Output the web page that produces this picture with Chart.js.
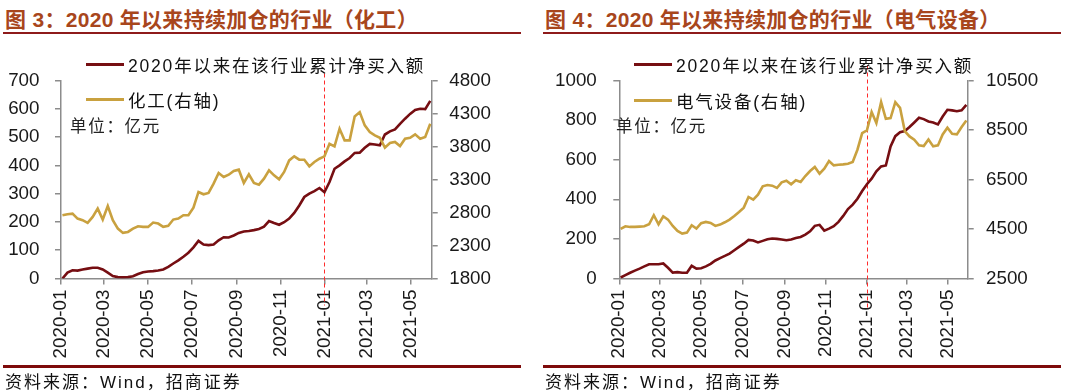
<!DOCTYPE html>
<html>
<head>
<meta charset="utf-8">
<script src="https://cdn.jsdelivr.net/npm/chart.js@4"></script>
<style>
  body { margin: 0; background: #fff; }
  #wrap { position: relative; width: 1080px; height: 392px; overflow: hidden;
          font-family: 'Liberation Sans', Arial, 'Noto Sans CJK SC', sans-serif; }
  .panel { position: absolute; top: 0; width: 540px; height: 392px; }
  .title { position: absolute; top: 7px; left: 5px; font-size: 21px; font-weight: bold; letter-spacing: 0.3px;
           color: #A8461C; white-space: nowrap; line-height: 26px; }
  .rule-top { position: absolute; top: 32px; left: 3px; width: 518px; height: 2px; background: #8E1B1B; }
  .rule-bot { position: absolute; top: 365px; left: 3px; width: 518px; height: 3px; background: #7E0A0A; }
  .source { position: absolute; top: 373px; left: 5px; font-size: 17px; letter-spacing: 2px; color: #111;
            white-space: nowrap; line-height: 20px; }
  canvas { position: absolute; left: 0; top: 40px; }
  .leg { position: absolute; display: flex; align-items: center; height: 20px; font-size: 17.5px; color: #111;
         white-space: nowrap; letter-spacing: 1.8px; }
  .leg .sw { display: inline-block; width: 38px; height: 3px; margin-right: 4px; }
  .unit { position: absolute; font-size: 16.5px; color: #222; white-space: nowrap; line-height: 20px; letter-spacing: 1.7px; }
</style>
</head>
<body>
<div id="wrap">
  <div class="panel" style="left:0">
    <div class="title">图 3：2020 年以来持续加仓的行业（化工）</div>
    <div class="rule-top"></div>
    <canvas id="c1" width="540" height="330"></canvas>
    <div class="leg" style="left:86px;top:54px"><span class="sw" style="background:#760E12"></span>2020年以来在该行业累计净买入额</div>
    <div class="leg" style="left:86px;top:89px"><span class="sw" style="background:#C9A13F"></span>化工(右轴)</div>
    <div class="unit" style="left:70px;top:116px">单位：亿元</div>
    <div class="rule-bot"></div>
    <div class="source">资料来源：Wind，招商证券</div>
  </div>
  <div class="panel" style="left:540px">
    <div class="title">图 4：2020 年以来持续加仓的行业（电气设备）</div>
    <div class="rule-top"></div>
    <canvas id="c2" width="540" height="330"></canvas>
    <div class="leg" style="left:94px;top:54px"><span class="sw" style="background:#760E12"></span>2020年以来在该行业累计净买入额</div>
    <div class="leg" style="left:94px;top:90px"><span class="sw" style="background:#C9A13F"></span>电气设备(右轴)</div>
    <div class="unit" style="left:76px;top:116px">单位：亿元</div>
    <div class="rule-bot"></div>
    <div class="source">资料来源：Wind，招商证券</div>
  </div>
</div>
<script>
// weekly observation dates (Fridays)
const weeks = [
  '2020-01-03','2020-01-10','2020-01-17','2020-01-24','2020-01-31','2020-02-07','2020-02-14','2020-02-21','2020-02-28',
  '2020-03-06','2020-03-13','2020-03-20','2020-03-27','2020-04-03','2020-04-10','2020-04-17','2020-04-24',
  '2020-05-01','2020-05-08','2020-05-15','2020-05-22','2020-05-29','2020-06-05','2020-06-12','2020-06-19','2020-06-26',
  '2020-07-03','2020-07-10','2020-07-17','2020-07-24','2020-07-31','2020-08-07','2020-08-14','2020-08-21','2020-08-28',
  '2020-09-04','2020-09-11','2020-09-18','2020-09-25','2020-10-02','2020-10-09','2020-10-16','2020-10-23','2020-10-30',
  '2020-11-06','2020-11-13','2020-11-20','2020-11-27','2020-12-04','2020-12-11','2020-12-18','2020-12-25',
  '2021-01-01','2021-01-08','2021-01-15','2021-01-22','2021-01-29','2021-02-05','2021-02-12','2021-02-19','2021-02-26',
  '2021-03-05','2021-03-12','2021-03-19','2021-03-26','2021-04-02','2021-04-09','2021-04-16','2021-04-23','2021-04-30',
  '2021-05-07','2021-05-14','2021-05-21','2021-05-28'
];

const xTickLabels = ['2020-01','2020-03','2020-05','2020-07','2020-09','2020-11','2021-01','2021-03','2021-05'];
const axisStart = '2020-01-01';
const axisEnd = '2021-05-30';
const markDate = '2021-01-01';

// 化工
const chemNetBuy = [0, 21, 29, 28, 32, 35, 38, 38, 32, 21, 9, 5, 4, 5, 8, 16, 22, 25, 26, 28,
  32, 41, 53, 64, 77, 91, 110, 133, 120, 118, 120, 135, 146, 145, 152, 161, 166, 168, 171, 175,
  183, 203, 196, 190, 199, 212, 232, 258, 288, 300, 309, 320, 305, 341, 388, 400, 414, 426, 444, 445,
  462, 476, 474, 471, 509, 520, 527, 547, 565, 582, 596, 600, 599, 628];
const chemIndex = [2758, 2773, 2783, 2708, 2683, 2642, 2733, 2859, 2693, 2899, 2683, 2556, 2491, 2506, 2556, 2592, 2582, 2582, 2647, 2632,
  2582, 2597, 2693, 2708, 2758, 2758, 2874, 3111, 3076, 3096, 3237, 3399, 3338, 3373, 3429, 3449, 3247, 3378, 3247, 3222,
  3313, 3439, 3363, 3303, 3414, 3590, 3651, 3600, 3600, 3499, 3565, 3615, 3651, 3842, 3802, 4069, 3893, 3893, 4256, 4321,
  4120, 4019, 3968, 3933, 3782, 3852, 3868, 3807, 3918, 3933, 3984, 3918, 3943, 4145];

// 电气设备
const elecNetBuy = [5, 17, 29, 40, 50, 61, 72, 72, 72, 76, 54, 30, 32, 29, 29, 64, 50, 52, 61, 74,
  91, 103, 114, 126, 143, 160, 176, 195, 192, 182, 190, 198, 202, 200, 197, 193, 197, 205, 210, 222,
  238, 266, 271, 242, 252, 264, 286, 316, 351, 373, 403, 442, 476, 504, 541, 566, 571, 667, 719, 739,
  745, 765, 788, 812, 805, 793, 788, 778, 818, 852, 849, 845, 849, 877];
const elecIndex = [4503, 4611, 4584, 4584, 4597, 4611, 4692, 5055, 4692, 5014, 4880, 4624, 4423, 4315, 4355, 4651, 4517, 4732, 4786, 4745,
  4624, 4678, 4772, 4880, 5028, 5189, 5364, 5794, 5686, 5888, 6224, 6278, 6251, 6157, 6386, 6453, 6305, 6466, 6399, 6641,
  6843, 7004, 6735, 6937, 7246, 7071, 7098, 7112, 7138, 7206, 7703, 8375, 8483, 9223, 8779, 9626, 8954, 8981, 9626, 9397,
  8456, 8241, 8107, 7878, 7851, 8120, 7838, 7878, 8322, 8590, 8349, 8322, 8617, 8886];

const DARK_RED = '#760E12';
const GOLD = '#C9A13F';
const AXIS = '#8C8C8C';
const TICK_FONT = { family: "'Liberation Sans', Arial, sans-serif", size: 18.8 };

// days since 2020-01-01, used as the x value
const base = Date.UTC(2020, 0, 1);
function dayOf(s) {
  const [y, m, d] = s.split('-').map(Number);
  return (Date.UTC(y, m - 1, d || 1) - base) / 86400000;
}
const xTicks = xTickLabels.map(dayOf);

const markerLine = {
  id: 'markerLine',
  beforeDatasetsDraw(chart, args, opts) {
    const { ctx, chartArea, scales } = chart;
    const x = Math.round(scales.x.getPixelForValue(dayOf(markDate))) + 0.5;
    ctx.save();
    ctx.strokeStyle = '#FF2B2B';
    ctx.lineWidth = 1;
    ctx.setLineDash([4, 3]);
    ctx.beginPath();
    ctx.moveTo(x, chartArea.top - opts.above);
    ctx.lineTo(x, chartArea.bottom + opts.below);
    ctx.stroke();
    ctx.restore();
  }
};

function renderDual(canvasId, left, right, g) {
  const ctx = document.getElementById(canvasId).getContext('2d');
  const pts = arr => arr.map((v, i) => ({ x: dayOf(weeks[i]), y: v }));
  const axisGrid = { drawOnChartArea: false, drawTicks: true, tickLength: 6, color: AXIS, lineWidth: 1.5 };

  new Chart(ctx, {
    type: 'line',
    data: {
      datasets: [
        { data: pts(right), yAxisID: 'y1', borderColor: GOLD, borderWidth: 2.6, pointRadius: 0, tension: 0, order: 0 },
        { data: pts(left), yAxisID: 'y', borderColor: DARK_RED, borderWidth: 2.6, pointRadius: 0, tension: 0, order: 1 },
      ],
    },
    options: {
      responsive: false,
      animation: false,
      layout: { padding: { top: 40.5, left: 0, right: 0, bottom: 0 } },
      plugins: {
        legend: { display: false },
        tooltip: { enabled: false },
        markerLine: { above: g.above, below: g.below },
      },
      scales: {
        x: {
          type: 'linear',
          min: dayOf(axisStart),
          max: dayOf(axisEnd),
          grid: axisGrid,
          border: { color: AXIS, width: 1.5 },
          afterBuildTicks: s => { s.ticks = xTicks.map(v => ({ value: v })); },
          afterFit: s => { s.height = 91.5; },
          ticks: {
            autoSkip: false,
            minRotation: 90,
            maxRotation: 90,
            padding: 5,
            color: '#1a1a1a',
            font: TICK_FONT,
            callback: (v, i) => xTickLabels[i],
          },
        },
        y: {
          position: 'left',
          min: g.yMin, max: g.yMax,
          grid: axisGrid,
          border: { color: AXIS, width: 1.5 },
          afterFit: s => { s.width = g.leftW; },
          ticks: { stepSize: g.yStep, padding: g.leftPad, color: '#1a1a1a', font: TICK_FONT, callback: v => String(v) },
        },
        y1: {
          position: 'right',
          min: g.y1Min, max: g.y1Max,
          grid: axisGrid,
          border: { color: AXIS, width: 1.5 },
          afterFit: s => { s.width = g.rightW; },
          ticks: { stepSize: g.y1Step, padding: g.rightPad, color: '#1a1a1a', font: TICK_FONT, callback: v => String(v) },
        },
      },
    },
    plugins: [markerLine],
  });
}

renderDual('c1', chemNetBuy, chemIndex,
  { yMin: 0, yMax: 700, yStep: 100, y1Min: 1800, y1Max: 4800, y1Step: 500,
    leftW: 61, rightW: 108.3, leftPad: 15.5, rightPad: 11.5, above: 7, below: 27 });
renderDual('c2', elecNetBuy, elecIndex,
  { yMin: 0, yMax: 1000, yStep: 200, y1Min: 2500, y1Max: 10500, y1Step: 2000,
    leftW: 79.3, rightW: 112.3, leftPad: 16.5, rightPad: 12.3, above: 15, below: 29 });
</script>
</body>
</html>
